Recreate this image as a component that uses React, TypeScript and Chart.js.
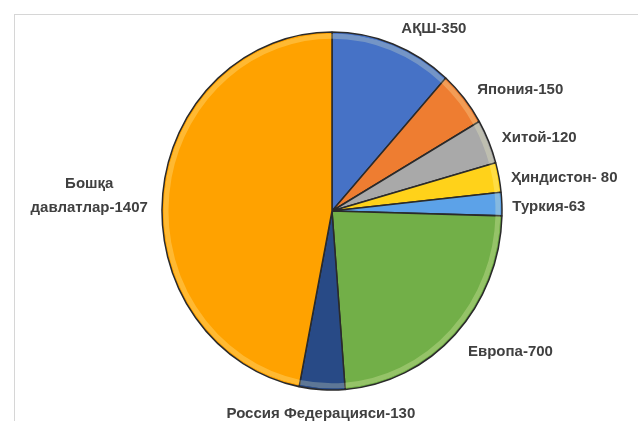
import React, { useEffect, useRef } from "react";
import { Chart, registerables } from "chart.js";

Chart.register(...registerables);

const categories = [
  "АҚШ",
  "Япония",
  "Хитой",
  "Ҳиндистон",
  "Туркия",
  "Европа",
  "Россия Федерацияси",
  "Бошқа давлатлар",
];
const values = [350, 150, 120, 80, 63, 700, 130, 1407];
const labelLines = [
  ["АҚШ-350"],
  ["Япония-150"],
  ["Хитой-120"],
  ["Ҳиндистон- 80"],
  ["Туркия-63"],
  ["Европа-700"],
  ["Россия Федерацияси-130"],
  ["Бошқа", "давлатлар-1407"],
];
const colors = [
  "#4672C6",
  "#EE7D31",
  "#A9A9A9",
  "#FFD21A",
  "#5CA2E8",
  "#72AF48",
  "#284A86",
  "#FFA200",
];

const Y_STRETCH = 179 / 170;

const framePlugin = {
  id: "frame",
  beforeDraw(chart: any) {
    const ctx = chart.ctx;
    ctx.save();
    ctx.fillStyle = "#ffffff";
    ctx.fillRect(0, 0, chart.width, chart.height);
    ctx.strokeStyle = "#d6d6d6";
    ctx.lineWidth = 1;
    ctx.strokeRect(14.5, 14.5, chart.width + 20, chart.height + 20);
    ctx.restore();
  },
};

const stretchPlugin = {
  id: "stretch",
  beforeDatasetsDraw(chart: any) {
    const ctx = chart.ctx;
    const arc = chart.getDatasetMeta(0).data[0] as any;
    const p = arc.getProps(["x", "y"], true);
    ctx.save();
    ctx.translate(p.x, p.y);
    ctx.scale(1, Y_STRETCH);
    ctx.translate(-p.x, -p.y);
  },
  afterDatasetsDraw(chart: any) {
    const ctx = chart.ctx;
    const meta = chart.getDatasetMeta(0);
    meta.data.forEach((arc: any) => {
      const p = arc.getProps(["x", "y", "startAngle", "endAngle", "outerRadius"], true);
      ctx.save();
      ctx.beginPath();
      ctx.moveTo(p.x, p.y);
      ctx.arc(p.x, p.y, p.outerRadius - 1.5, p.startAngle, p.endAngle);
      ctx.closePath();
      ctx.clip();
      ctx.strokeStyle = "rgba(255,255,200,0.25)";
      ctx.lineWidth = 5;
      ctx.beginPath();
      ctx.arc(p.x, p.y, p.outerRadius - 4, p.startAngle, p.endAngle);
      ctx.stroke();
      ctx.restore();
    });
    ctx.restore();
  },
};

const labelPlugin = {
  id: "sliceLabels",
  afterDraw(chart: any) {
    const ctx = chart.ctx;
    const meta = chart.getDatasetMeta(0);
    ctx.save();
    ctx.font = "bold 15px 'Liberation Sans', Arial, sans-serif";
    ctx.fillStyle = "#404040";
    ctx.textBaseline = "middle";
    ctx.textAlign = "center";
    meta.data.forEach((arc: any, i: number) => {
      const p = arc.getProps(["x", "y", "startAngle", "endAngle", "outerRadius"], true);
      const mid = (p.startAngle + p.endAngle) / 2;
      const c = Math.cos(mid);
      const s = Math.sin(mid);
      const rx = p.outerRadius + 20;
      const ry = p.outerRadius * Y_STRETCH + 20;
      const ax = p.x + c * rx;
      const ay = p.y + s * ry + 4;
      const lines = labelLines[i];
      const maxW = Math.max(...lines.map((l) => ctx.measureText(l).width));
      let cx: number;
      if (Math.abs(c) < 0.3) {
        cx = ax;
      } else if (c > 0) {
        cx = ax - 10 + 12 * Math.abs(s) + maxW / 2;
      } else {
        cx = ax + 5 - maxW / 2;
      }
      const lh = 24;
      lines.forEach((ln, k) => {
        ctx.fillText(ln, cx, ay + (k - (lines.length - 1) / 2) * lh);
      });
    });
    ctx.restore();
  },
};

export default function App() {
  const ref = useRef<HTMLCanvasElement | null>(null);
  useEffect(() => {
    if (!ref.current) return;
    const chart = new Chart(ref.current, {
      type: "pie",
      data: {
        labels: categories,
        datasets: [
          {
            data: values,
            backgroundColor: colors,
            borderColor: "#2a2a2a",
            borderWidth: 1.5,
            hoverOffset: 0,
            clip: false,
          } as any,
        ],
      },
      options: {
        animation: false,
        responsive: false,
        maintainAspectRatio: false,
        radius: 170,
        layout: { padding: { left: 161, right: 135, top: 40, bottom: 39 } },
        plugins: {
          legend: { display: false },
          tooltip: { enabled: false },
        },
      } as any,
      plugins: [framePlugin, stretchPlugin, labelPlugin],
    });
    return () => chart.destroy();
  }, []);
  return (
    <div style={{ position: "fixed", left: 0, top: 0, width: 638, height: 421, background: "#fff" }}>
      <canvas ref={ref} width={638} height={421} style={{ display: "block", width: 638, height: 421 }} />
    </div>
  );
}
